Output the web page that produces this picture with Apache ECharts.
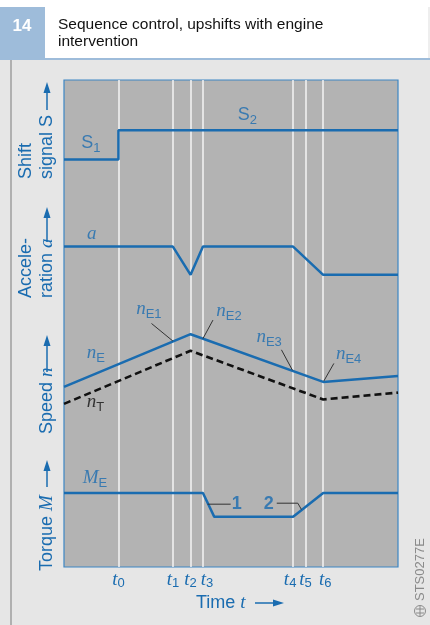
<!DOCTYPE html>
<html><head><meta charset="utf-8">
<script src="https://cdn.jsdelivr.net/npm/echarts@6/dist/echarts.min.js"></script>
<style>html,body{margin:0;padding:0;background:#e6e6e6;} #c{width:430px;height:625px;}</style>
</head><body><div id="c"></div>
<script>
// ---- data (time axis 0..100, value axis 0..100) ----
const timeMarks = [16.3, 32.6, 37.9, 41.6, 68.6, 72.3, 77.6];
const timeLabels = ['0', '1', '2', '3', '4', '5', '6'];
const shiftSignal = [[0, 83.7], [16.3, 83.7], [16.3, 89.7], [100, 89.7]];
const acceleration = [[0, 65.8], [32.6, 65.8], [37.9, 60.0], [41.6, 65.8], [68.6, 65.8], [77.6, 60.0], [100, 60.0]];
const engineSpeed = [[0, 37.0], [37.9, 47.8], [77.6, 38.0], [100, 39.2]];
const turbineSpeed = [[0, 33.5], [37.9, 44.4], [77.6, 34.4], [100, 35.8]];
const engineTorque = [[0, 15.2], [41.6, 15.2], [45.0, 10.3], [68.6, 10.3], [77.6, 15.2], [100, 15.2]];
const leaderLines = [
  [[26.2, 50.0], [32.6, 46.4]],
  [[44.6, 50.7], [41.6, 46.9]],
  [[65.1, 44.6], [68.4, 40.4]],
  [[80.8, 41.8], [77.8, 38.2]],
  [[43.0, 12.9], [49.9, 12.9]],
  [[63.7, 13.1], [70.0, 13.1], [71.1, 11.8]]
];
const annotations = [
  [5.2, 87.1, '{s|S}{ss|1}'],
  [52.0, 92.8, '{s|S}{ss|2}'],
  [6.9, 68.4, '{v|a}'],
  [6.8, 43.9, '{v|n}{vs|E}'],
  [6.8, 33.9, '{k|n}{ks|T}'],
  [21.6, 53.0, '{v|n}{vs|E1}'],
  [45.6, 52.6, '{v|n}{vs|E2}'],
  [57.6, 47.2, '{v|n}{vs|E3}'],
  [81.4, 43.7, '{v|n}{vs|E4}'],
  [5.6, 18.3, '{v|M}{vs|E}'],
  [50.2, 12.9, '{b|1}'],
  [59.8, 12.9, '{b|2}']
];

const BLUE = '#1a6cb0';
const SANS = '"Liberation Sans", Arial, sans-serif';
const SERIF = '"Liberation Serif", "Times New Roman", serif';

const richStyles = {
  s: {fontSize: 18, fontFamily: SANS, color: BLUE, lineHeight: 24, verticalAlign: 'middle'},
  ss: {fontSize: 13, fontFamily: SANS, color: BLUE, lineHeight: 12, verticalAlign: 'bottom'},
  v: {fontSize: 19, fontFamily: SERIF, fontStyle: 'italic', color: BLUE, lineHeight: 24, verticalAlign: 'middle'},
  vs: {fontSize: 13, fontFamily: SANS, color: BLUE, lineHeight: 12, verticalAlign: 'bottom'},
  k: {fontSize: 19, fontFamily: SERIF, fontStyle: 'italic', color: '#111', lineHeight: 24, verticalAlign: 'middle'},
  ks: {fontSize: 13, fontFamily: SANS, color: '#111', lineHeight: 12, verticalAlign: 'bottom'},
  b: {fontSize: 18, fontFamily: SANS, fontWeight: 'bold', color: BLUE, lineHeight: 24}
};

const chart = echarts.init(document.getElementById('c'), null, {renderer: 'canvas'});

function blueLine(name, data) {
  return {name, type: 'line', data, symbol: 'none', z: 3, silent: true,
    lineStyle: {color: BLUE, width: 2.5}, animation: false};
}

function arrowUp(x, tail, tip) {
  return {type: 'group', children: [
    {type: 'line', shape: {x1: x, y1: tail, x2: x, y2: tip + 6}, style: {stroke: BLUE, lineWidth: 1.5}},
    {type: 'polygon', shape: {points: [[x - 3.5, tip + 11], [x + 3.5, tip + 11], [x, tip]]}, style: {fill: BLUE}}
  ]};
}
function vText(x, y, text, rich) {
  return {type: 'text', x, y, rotation: Math.PI / 2,
    style: {text, fill: BLUE, font: '18px ' + SANS, fontSize: 18, fontFamily: SANS,
      align: 'left', textAlign: 'left', verticalAlign: 'middle', textVerticalAlign: 'middle', rich}};
}
const vRich = {
  a: {fontSize: 18, fontFamily: SANS, color: BLUE},
  i: {fontSize: 19, fontFamily: SERIF, fontStyle: 'italic', color: BLUE}
};

const option = {
  animation: false,
  grid: {left: 64, right: 32, top: 80, bottom: 58, show: true, backgroundColor: '#b3b3b3',
    borderColor: '#3d86c4', borderWidth: 1.2},
  xAxis: {type: 'value', min: 0, max: 100, axisLine: {show: false}, axisTick: {show: false},
    axisLabel: {show: false}, splitLine: {show: false}},
  yAxis: {type: 'value', min: 0, max: 100, axisLine: {show: false}, axisTick: {show: false},
    axisLabel: {show: false}, splitLine: {show: false}},
  series: [
    {type: 'line', data: [], z: 1, silent: true,
      markLine: {silent: true, z: 1, symbol: 'none', animation: false,
        lineStyle: {color: '#f4f4f4', width: 1.5, type: 'solid'},
        label: {show: true, position: 'start', distance: 3,
          formatter: p => '{t|t}{ts|' + p.name + '}',
          rich: {
            t: {fontSize: 19, fontFamily: SERIF, fontStyle: 'italic', color: BLUE, lineHeight: 20, verticalAlign: 'middle'},
            ts: {fontSize: 13, fontFamily: SANS, color: BLUE, lineHeight: 12, verticalAlign: 'bottom'}
          }},
        emphasis: {disabled: true},
        data: timeMarks.map((v, i) => ({xAxis: v, name: timeLabels[i],
          label: {offset: i === 3 ? [4, 0] : (i === 4 ? [-3, 0] : (i === 6 ? [2, 0] : [0, 0]))}}))
      }},
    blueLine('shift', shiftSignal),
    blueLine('accel', acceleration),
    blueLine('nE', engineSpeed),
    {name: 'nT', type: 'line', data: turbineSpeed, symbol: 'none', z: 3, silent: true,
      lineStyle: {color: '#111', width: 2.6, type: [7, 4]}},
    blueLine('ME', engineTorque),
    ...leaderLines.map(d => ({type: 'line', data: d, symbol: 'none', z: 4, silent: true,
      lineStyle: {color: '#333', width: 1}})),
    {type: 'scatter', symbolSize: 0, z: 5, silent: true,
      data: annotations.map(a => ({value: [a[0], a[1]], label: {formatter: a[2]}})),
      label: {show: true, position: 'right', distance: 0, align: 'left', verticalAlign: 'middle', rich: richStyles}}
  ],
  graphic: [
    {type: 'rect', shape: {x: 0, y: 0, width: 430, height: 7}, style: {fill: '#ffffff'}},
    {type: 'rect', shape: {x: 0, y: 7, width: 45, height: 53}, style: {fill: '#9ebcda'}},
    {type: 'rect', shape: {x: 45, y: 7, width: 383, height: 51}, style: {fill: '#ffffff'}},
    {type: 'rect', shape: {x: 45, y: 58, width: 385, height: 2}, style: {fill: '#9ebcda'}},
    {type: 'rect', shape: {x: 428, y: 7, width: 2, height: 51}, style: {fill: '#eeeeee'}},
    {type: 'rect', shape: {x: 10, y: 60, width: 2, height: 565}, style: {fill: '#b0b0b0'}},
    {type: 'text', x: 22, y: 26, style: {text: '14', fill: '#ffffff', font: 'bold 17px ' + SANS,
      align: 'center', textAlign: 'center', verticalAlign: 'middle', textVerticalAlign: 'middle'}},
    {type: 'text', x: 58, y: 25, style: {text: 'Sequence control, upshifts with engine', fill: '#111',
      font: '15.5px ' + SANS, align: 'left', textAlign: 'left', verticalAlign: 'middle', textVerticalAlign: 'middle'}},
    {type: 'text', x: 58, y: 42, style: {text: 'intervention', fill: '#111',
      font: '15.5px ' + SANS, align: 'left', textAlign: 'left', verticalAlign: 'middle', textVerticalAlign: 'middle'}},
    vText(26, 179, '{a|Shift}', vRich),
    vText(47, 179, '{a|signal S}', vRich),
    arrowUp(47, 110, 82),
    vText(26, 298, '{a|Accele-}', vRich),
    vText(47, 298, '{a|ration }{i|a}', vRich),
    arrowUp(47, 242, 207),
    vText(47, 434, '{a|Speed }{i|n}', vRich),
    arrowUp(47, 372, 335),
    vText(47, 571, '{a|Torque }{i|M}', vRich),
    arrowUp(47, 487, 460),
    {type: 'text', x: 196, y: 603, style: {text: '{a|Time }{i|t}', rich: vRich, fill: BLUE,
      align: 'left', textAlign: 'left', verticalAlign: 'middle', textVerticalAlign: 'middle'}},
    {type: 'group', children: [
      {type: 'line', shape: {x1: 255, y1: 603, x2: 276, y2: 603}, style: {stroke: BLUE, lineWidth: 1.5}},
      {type: 'polygon', shape: {points: [[273, 599.5], [273, 606.5], [284, 603]]}, style: {fill: BLUE}}
    ]},
    {type: 'text', x: 420, y: 601, rotation: Math.PI / 2, style: {text: 'STS0277E', fill: '#8a8a8a',
      font: '13px ' + SANS, align: 'left', textAlign: 'left', verticalAlign: 'middle', textVerticalAlign: 'middle'}},
    {type: 'circle', shape: {cx: 420, cy: 611, r: 5.5}, style: {fill: 'none', stroke: '#8a8a8a', lineWidth: 1}},
    {type: 'line', shape: {x1: 416, y1: 609, x2: 424, y2: 609}, style: {stroke: '#8a8a8a', lineWidth: 1}},
    {type: 'line', shape: {x1: 416, y1: 613, x2: 424, y2: 613}, style: {stroke: '#8a8a8a', lineWidth: 1}},
    {type: 'line', shape: {x1: 420, y1: 606, x2: 420, y2: 616}, style: {stroke: '#8a8a8a', lineWidth: 1}}
  ]
};
chart.setOption(option);
</script>
</body></html>
